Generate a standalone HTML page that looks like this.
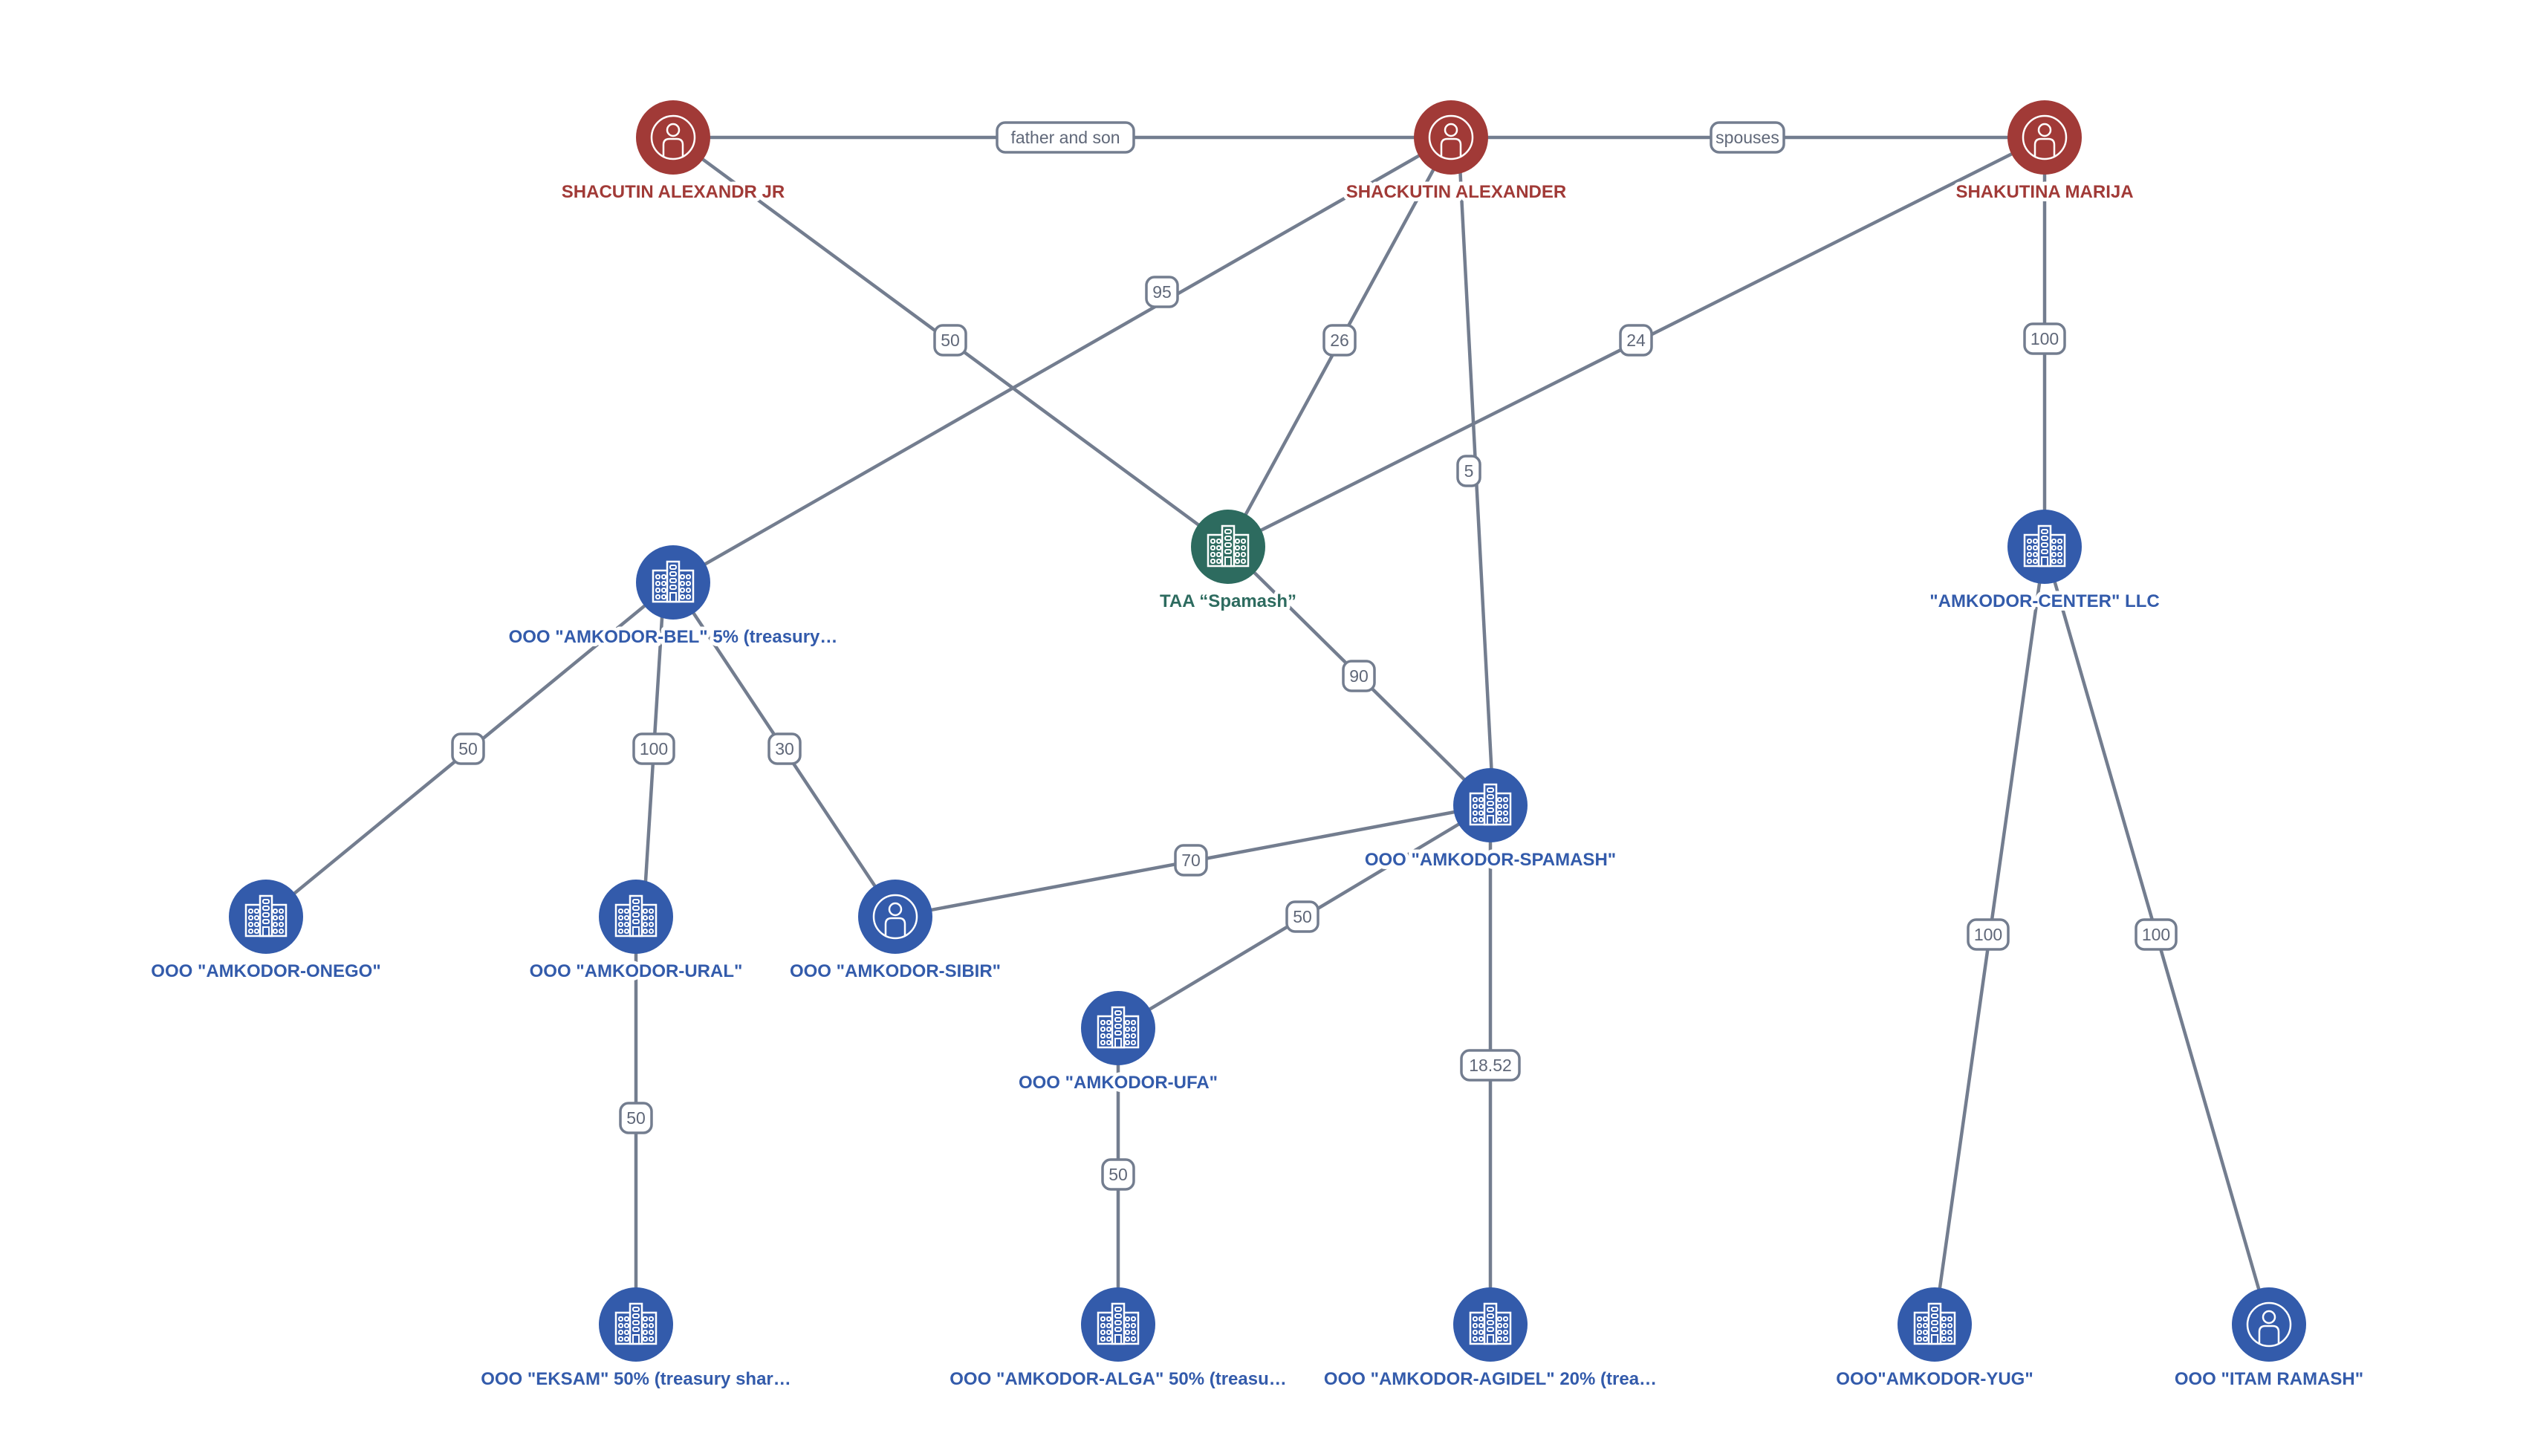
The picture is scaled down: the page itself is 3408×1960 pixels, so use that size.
<!DOCTYPE html>
<html><head><meta charset="utf-8"><style>
html,body{margin:0;padding:0;background:#fff;}
svg{display:block;}
.nl{font-family:"Liberation Sans",Arial,sans-serif;font-weight:bold;font-size:24px;text-anchor:middle;paint-order:stroke;stroke:#fff;stroke-width:10px;stroke-linejoin:round;}
.el{font-family:"Liberation Sans",Arial,sans-serif;font-size:23px;fill:#5f6778;text-anchor:middle;dominant-baseline:central;}
.e line{stroke:#737d8f;stroke-width:4.5;}
.lb rect{fill:#fff;stroke:#737d8f;stroke-width:3.5;}
</style></head><body>
<svg width="3408" height="1960" viewBox="0 0 3408 1960" xmlns="http://www.w3.org/2000/svg">
<defs>
<g id="bld" fill="none" stroke="#fff" stroke-width="2.5">
<rect x="-27" y="-16" width="54" height="42"/>
<rect x="-8" y="-28" width="16" height="54" fill="currentColor"/>
<g stroke-width="2">
<rect x="-4" y="-23" width="8" height="5" rx="2"/>
<rect x="-4" y="-14" width="8" height="5" rx="2"/>
<rect x="-4" y="-5" width="8" height="5" rx="2"/>
<rect x="-4" y="4" width="8" height="5" rx="2"/>
<rect x="-4" y="14" width="8" height="12"/>
<rect x="-23" y="-10" width="5" height="5" rx="2"/><rect x="-15" y="-10" width="5" height="5" rx="2"/>
<rect x="-23" y="-1" width="5" height="5" rx="2"/><rect x="-15" y="-1" width="5" height="5" rx="2"/>
<rect x="-23" y="8" width="5" height="5" rx="2"/><rect x="-15" y="8" width="5" height="5" rx="2"/>
<rect x="-23" y="17" width="5" height="5" rx="2"/><rect x="-15" y="17" width="5" height="5" rx="2"/>
<rect x="10" y="-10" width="5" height="5" rx="2"/><rect x="18" y="-10" width="5" height="5" rx="2"/>
<rect x="10" y="-1" width="5" height="5" rx="2"/><rect x="18" y="-1" width="5" height="5" rx="2"/>
<rect x="10" y="8" width="5" height="5" rx="2"/><rect x="18" y="8" width="5" height="5" rx="2"/>
<rect x="10" y="17" width="5" height="5" rx="2"/><rect x="18" y="17" width="5" height="5" rx="2"/>
</g></g>
<g id="per" fill="none" stroke="#fff" stroke-width="2.5">
<circle r="29"/>
<circle cx="0" cy="-10" r="8"/>
<path d="M-13 26 V10 Q-13 2 -5 2 H5 Q13 2 13 10 V26"/>
</g>
</defs>
<g class="e">
<line x1="906" y1="185" x2="1953" y2="185"/>
<line x1="1953" y1="185" x2="2752" y2="185"/>
<line x1="906" y1="185" x2="1653" y2="736"/>
<line x1="1953" y1="185" x2="906" y2="784"/>
<line x1="1953" y1="185" x2="1653" y2="736"/>
<line x1="2752" y1="185" x2="1653" y2="736"/>
<line x1="1963" y1="185" x2="2010" y2="1084"/>
<line x1="2752" y1="185" x2="2752" y2="736"/>
<line x1="1653" y1="736" x2="2006" y2="1084"/>
<line x1="906" y1="784" x2="358" y2="1234"/>
<line x1="894" y1="784" x2="866" y2="1234"/>
<line x1="906" y1="784" x2="1205" y2="1234"/>
<line x1="2006" y1="1084" x2="1205" y2="1234"/>
<line x1="2006" y1="1084" x2="1505" y2="1384"/>
<line x1="2006" y1="1084" x2="2006" y2="1783"/>
<line x1="856" y1="1234" x2="856" y2="1783"/>
<line x1="1505" y1="1384" x2="1505" y2="1783"/>
<line x1="2752" y1="736" x2="2604" y2="1783"/>
<line x1="2752" y1="736" x2="3054" y2="1783"/>
</g>
<g class="lb">
<rect x="1342" y="165" width="184" height="40" rx="11"/><text class="el" x="1434" y="185">father and son</text>
<rect x="2303" y="165" width="98" height="40" rx="11"/><text class="el" x="2352" y="185">spouses</text>
<rect x="1258" y="438" width="42" height="40" rx="11"/><text class="el" x="1279" y="458">50</text>
<rect x="1543" y="373" width="42" height="40" rx="11"/><text class="el" x="1564" y="393">95</text>
<rect x="1782" y="438" width="42" height="40" rx="11"/><text class="el" x="1803" y="458">26</text>
<rect x="2181" y="438" width="42" height="40" rx="11"/><text class="el" x="2202" y="458">24</text>
<rect x="1962" y="614" width="30" height="40" rx="11"/><text class="el" x="1977" y="634">5</text>
<rect x="2725" y="436" width="54" height="40" rx="11"/><text class="el" x="2752" y="456">100</text>
<rect x="1808" y="890" width="42" height="40" rx="11"/><text class="el" x="1829" y="910">90</text>
<rect x="609" y="988" width="42" height="40" rx="11"/><text class="el" x="630" y="1008">50</text>
<rect x="853" y="988" width="54" height="40" rx="11"/><text class="el" x="880" y="1008">100</text>
<rect x="1035" y="988" width="42" height="40" rx="11"/><text class="el" x="1056" y="1008">30</text>
<rect x="1582" y="1138" width="42" height="40" rx="11"/><text class="el" x="1603" y="1158">70</text>
<rect x="1732" y="1214" width="42" height="40" rx="11"/><text class="el" x="1753" y="1234">50</text>
<rect x="1967" y="1414" width="78" height="40" rx="11"/><text class="el" x="2006" y="1434">18.52</text>
<rect x="835" y="1485" width="42" height="40" rx="11"/><text class="el" x="856" y="1505">50</text>
<rect x="1484" y="1561" width="42" height="40" rx="11"/><text class="el" x="1505" y="1581">50</text>
<rect x="2649" y="1238" width="54" height="40" rx="11"/><text class="el" x="2676" y="1258">100</text>
<rect x="2875" y="1238" width="54" height="40" rx="11"/><text class="el" x="2902" y="1258">100</text>
</g>
<g>
<g transform="translate(906,185)" color="#a13a37"><circle r="50" fill="#a13a37"/><use href="#per"/></g>
<g transform="translate(1953,185)" color="#a13a37"><circle r="50" fill="#a13a37"/><use href="#per"/></g>
<g transform="translate(2752,185)" color="#a13a37"><circle r="50" fill="#a13a37"/><use href="#per"/></g>
<g transform="translate(1653,736)" color="#2d6b5f"><circle r="50" fill="#2d6b5f"/><use href="#bld"/></g>
<g transform="translate(906,784)" color="#335bab"><circle r="50" fill="#335bab"/><use href="#bld"/></g>
<g transform="translate(2752,736)" color="#335bab"><circle r="50" fill="#335bab"/><use href="#bld"/></g>
<g transform="translate(2006,1084)" color="#335bab"><circle r="50" fill="#335bab"/><use href="#bld"/></g>
<g transform="translate(358,1234)" color="#335bab"><circle r="50" fill="#335bab"/><use href="#bld"/></g>
<g transform="translate(856,1234)" color="#335bab"><circle r="50" fill="#335bab"/><use href="#bld"/></g>
<g transform="translate(1205,1234)" color="#335bab"><circle r="50" fill="#335bab"/><use href="#per"/></g>
<g transform="translate(1505,1384)" color="#335bab"><circle r="50" fill="#335bab"/><use href="#bld"/></g>
<g transform="translate(856,1783)" color="#335bab"><circle r="50" fill="#335bab"/><use href="#bld"/></g>
<g transform="translate(1505,1783)" color="#335bab"><circle r="50" fill="#335bab"/><use href="#bld"/></g>
<g transform="translate(2006,1783)" color="#335bab"><circle r="50" fill="#335bab"/><use href="#bld"/></g>
<g transform="translate(2604,1783)" color="#335bab"><circle r="50" fill="#335bab"/><use href="#bld"/></g>
<g transform="translate(3054,1783)" color="#335bab"><circle r="50" fill="#335bab"/><use href="#per"/></g>
</g>
<g>
<text class="nl" fill="#a13a37" x="906" y="266">SHACUTIN ALEXANDR JR</text>
<text class="nl" fill="#a13a37" x="1960" y="266">SHACKUTIN ALEXANDER</text>
<text class="nl" fill="#a13a37" x="2752" y="266">SHAKUTINA MARIJA</text>
<text class="nl" fill="#2d6b5f" x="1653" y="817">TAA “Spamash”</text>
<text class="nl" fill="#335bab" x="906" y="865">OOO "AMKODOR-BEL" 5% (treasury…</text>
<text class="nl" fill="#335bab" x="2752" y="817">"AMKODOR-CENTER" LLC</text>
<text class="nl" fill="#335bab" x="2006" y="1165">OOO "AMKODOR-SPAMASH"</text>
<text class="nl" fill="#335bab" x="358" y="1315">OOO "AMKODOR-ONEGO"</text>
<text class="nl" fill="#335bab" x="856" y="1315">OOO "AMKODOR-URAL"</text>
<text class="nl" fill="#335bab" x="1205" y="1315">OOO "AMKODOR-SIBIR"</text>
<text class="nl" fill="#335bab" x="1505" y="1465">OOO "AMKODOR-UFA"</text>
<text class="nl" fill="#335bab" x="856" y="1864">OOO "EKSAM" 50% (treasury shar…</text>
<text class="nl" fill="#335bab" x="1505" y="1864">OOO "AMKODOR-ALGA" 50% (treasu…</text>
<text class="nl" fill="#335bab" x="2006" y="1864">OOO "AMKODOR-AGIDEL" 20% (trea…</text>
<text class="nl" fill="#335bab" x="2604" y="1864">OOO"AMKODOR-YUG"</text>
<text class="nl" fill="#335bab" x="3054" y="1864">OOO "ITAM RAMASH"</text>
</g>
</svg>
</body></html>
